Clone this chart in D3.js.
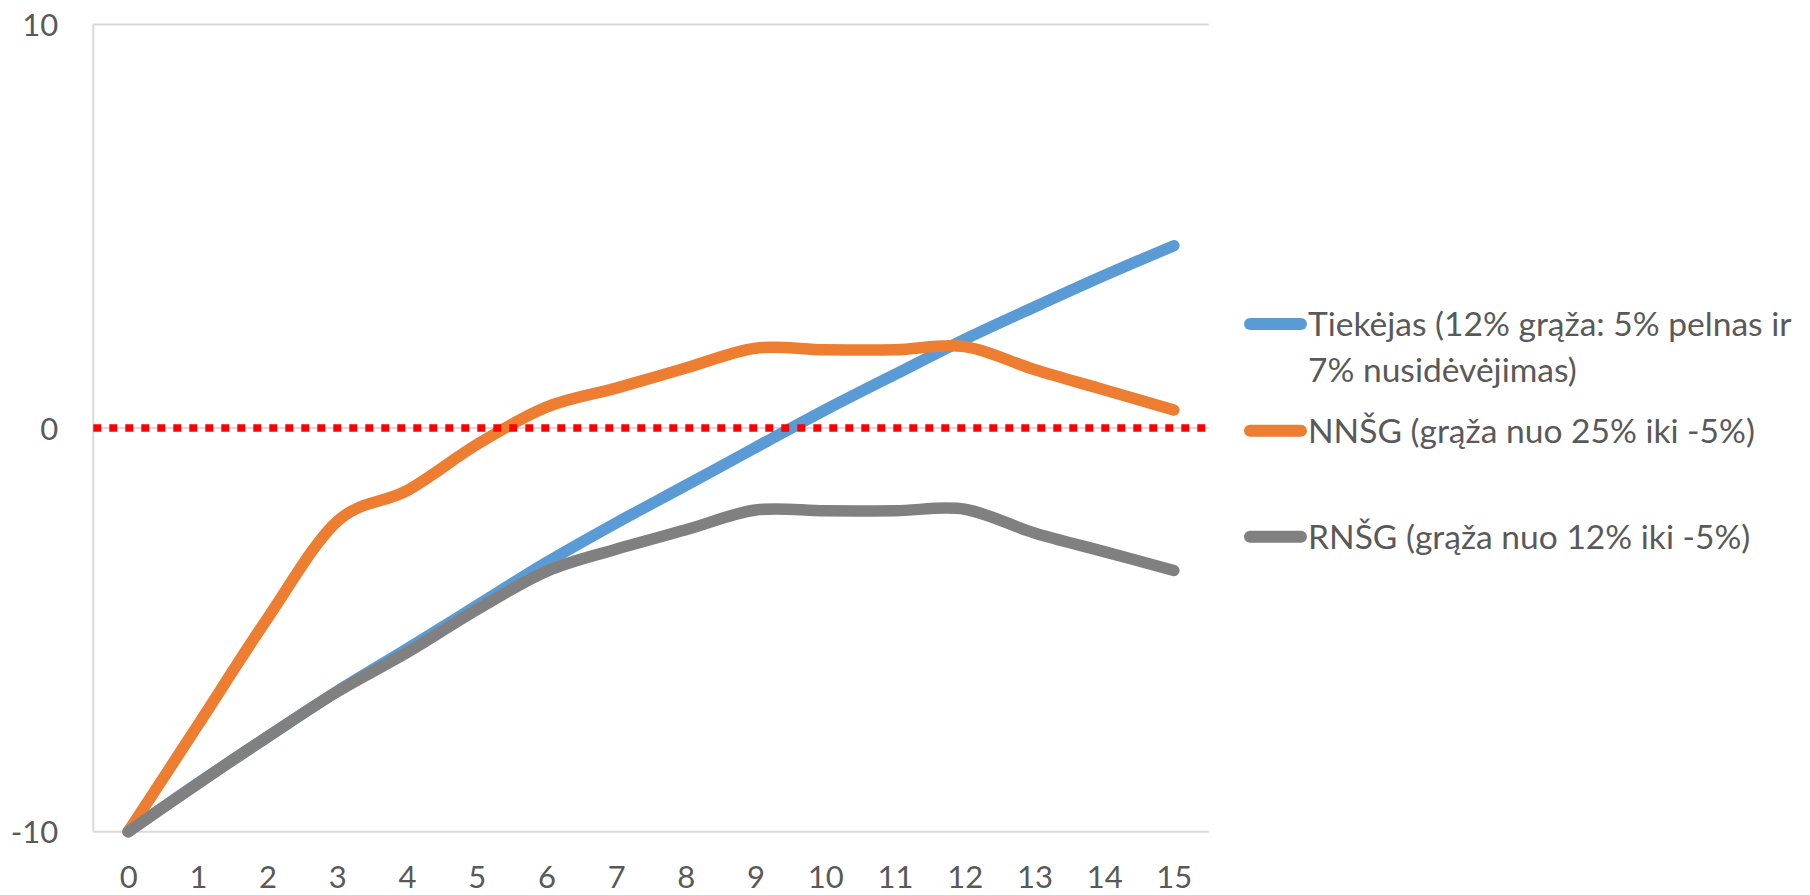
<!DOCTYPE html>
<html>
  <head>
    <meta charset="utf-8" />
    <script src="https://cdn.jsdelivr.net/npm/d3@7"></script>
    <style>
      body { margin: 0; background: #fff; }
      #chart text { font-family: Lato, "Open Sans", sans-serif; fill: #595959; }
    </style>
  </head>
  <body>
    <div id="chart"></div>

    <script type="text/javascript">
// data
var years = [0, 1, 2, 3, 4, 5, 6, 7, 8, 9, 10, 11, 12, 13, 14, 15];
var tiekejas = [-10, -8.8, -7.65, -6.52, -5.47, -4.4, -3.33, -2.35, -1.42, -0.48, 0.45, 1.33, 2.2, 3.0, 3.78, 4.52];
var nnsg = [-10, -7.36, -4.71, -2.31, -1.55, -0.41, 0.52, 0.99, 1.49, 1.98, 1.94, 1.94, 2.02, 1.45, 0.95, 0.45];
var rnsg = [-10, -8.81, -7.65, -6.53, -5.56, -4.5, -3.55, -3.0, -2.52, -2.03, -2.05, -2.05, -2.01, -2.6, -3.06, -3.53];
var yTicks = [-10, 0, 10];
var seriesNames = [
  ["Tiekėjas (12% grąža: 5% pelnas ir", "7% nusidėvėjimas)"],
  ["NNŠG (grąža nuo 25% iki -5%)"],
  ["RNŠG (grąža nuo 12% iki -5%)"]
];
var seriesColors = ["#5B9BD5", "#ED7D31", "#808080"];

var width = 1810, height = 895;
var plot = {left: 93.3, right: 1208.7, top: 24.5, bottom: 831.7};

var svg = d3.select("#chart").append("svg")
  .attr("width", width)
  .attr("height", height);

var x = d3.scalePoint()
  .domain(years)
  .range([plot.left, plot.right])
  .padding(0.5);

var y = d3.scaleLinear()
  .domain([-10, 10])
  .range([plot.bottom, plot.top]);

// gridlines
svg.append("g").selectAll("line")
  .data(yTicks)
  .enter().append("line")
    .attr("x1", plot.left)
    .attr("x2", plot.right)
    .attr("y1", function(d) { return y(d); })
    .attr("y2", function(d) { return y(d); })
    .attr("stroke", "#D9D9D9")
    .attr("stroke-width", 2);

// vertical axis line
svg.append("line")
  .attr("x1", plot.left).attr("x2", plot.left)
  .attr("y1", y(10)).attr("y2", y(-10))
  .attr("stroke", "#D9D9D9")
  .attr("stroke-width", 2);

var tickSize = 31;

// y axis labels (plain hyphen, like the original)
var yAxis = svg.append("g")
  .attr("transform", "translate(" + plot.left + ",0)")
  .call(d3.axisLeft(y).tickValues(yTicks).tickSize(0).tickPadding(35)
    .tickFormat(function(d) { return String(d); }));
yAxis.select(".domain").remove();
yAxis.selectAll("text")
  .attr("font-size", tickSize)
  .attr("dy", "0.36em");

// x axis labels (sit low, under the -10 line)
var xAxis = svg.append("g")
  .attr("transform", "translate(0," + plot.bottom + ")")
  .call(d3.axisBottom(x).tickSize(0));
xAxis.select(".domain").remove();
xAxis.selectAll("text")
  .attr("font-size", tickSize)
  .attr("y", 56)
  .attr("dy", null);

// lines
var line = d3.line()
  .x(function(d, i) { return x(years[i]); })
  .y(function(d) { return y(d); })
  .curve(d3.curveCardinal.tension(0));

var allSeries = [tiekejas, nnsg, rnsg];
svg.append("g").selectAll("path")
  .data(allSeries)
  .enter().append("path")
    .attr("d", line)
    .attr("fill", "none")
    .attr("stroke", function(d, i) { return seriesColors[i]; })
    .attr("stroke-width", 11.5)
    .attr("stroke-linecap", "round")
    .attr("stroke-linejoin", "round");

// horizontal axis crossing at 0, red dotted
svg.append("line")
  .attr("x1", plot.left).attr("x2", plot.right)
  .attr("y1", y(0)).attr("y2", y(0))
  .attr("stroke", "#FF0000")
  .attr("stroke-width", 7.5)
  .attr("stroke-dasharray", "8 8");

// legend
var legendY = [324, 430.7, 536.7];
var probe = svg.append("text")
  .attr("font-size", 40)
  .text(seriesNames[1][0]);
var legendSize = 40 * 447 / probe.node().getComputedTextLength();
probe.remove();
var capH = 0.72 * legendSize;

var legend = svg.append("g").selectAll("g")
  .data(seriesNames)
  .enter().append("g")
    .attr("transform", function(d, i) { return "translate(0," + legendY[i] + ")"; });

legend.append("line")
  .attr("x1", 1250).attr("x2", 1301)
  .attr("stroke", function(d, i) { return seriesColors[i]; })
  .attr("stroke-width", 12)
  .attr("stroke-linecap", "round");

legend.append("text")
  .attr("font-size", legendSize)
  .selectAll("tspan")
  .data(function(d) { return d; })
  .enter().append("tspan")
    .attr("x", 1308)
    .attr("y", function(d, j) { return capH / 2 + j * 45.7; })
    .text(function(d) { return d; });
    </script>
  </body>
</html>
